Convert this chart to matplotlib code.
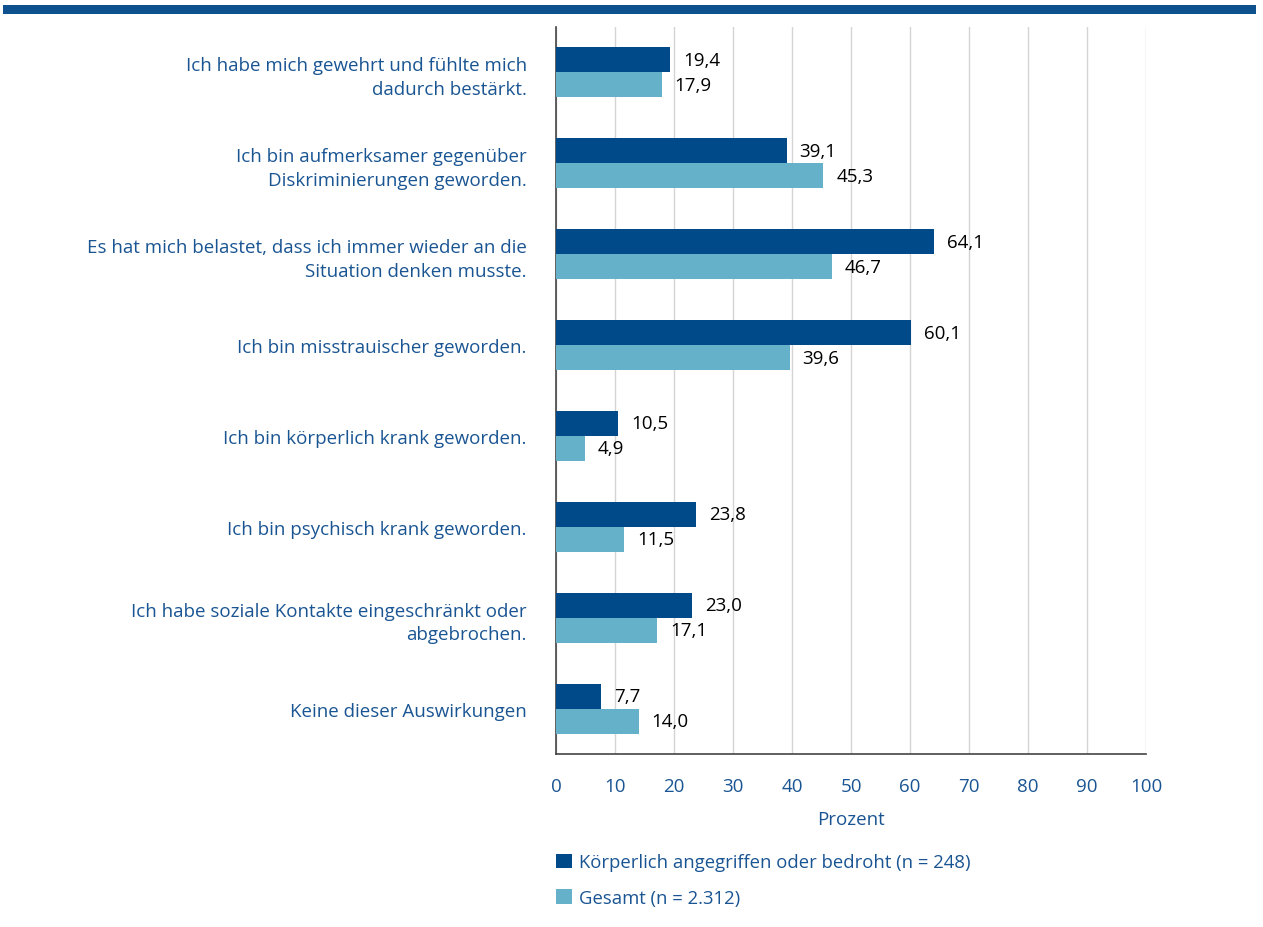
import matplotlib
matplotlib.use("Agg")
import matplotlib.pyplot as plt
import numpy as np

categories = [
    "Ich habe mich gewehrt und fühlte mich\ndadurch bestärkt.",
    "Ich bin aufmerksamer gegenüber\nDiskriminierungen geworden.",
    "Es hat mich belastet, dass ich immer wieder an die\nSituation denken musste.",
    "Ich bin misstrauischer geworden.",
    "Ich bin körperlich krank geworden.",
    "Ich bin psychisch krank geworden.",
    "Ich habe soziale Kontakte eingeschränkt oder\nabgebrochen.",
    "Keine dieser Auswirkungen",
]
angegriffen = [19.4, 39.1, 64.1, 60.1, 10.5, 23.8, 23.0, 7.7]
gesamt = [17.9, 45.3, 46.7, 39.6, 4.9, 11.5, 17.1, 14.0]
series_names = ["Körperlich angegriffen oder bedroht (n = 248)", "Gesamt (n = 2.312)"]
xticks = list(range(0, 101, 10))

DARK = "#004a8a"
LIGHT = "#64b1c9"
TEXT = "#1a5593"
FONT = "Open Sans"

plt.rcParams["font.family"] = [FONT, "DejaVu Sans"]

fig = plt.figure(figsize=(12.63, 9.28), dpi=100)
W, H = 1263, 928
ax = fig.add_axes([556 / W, 1 - 755 / H, 590 / W, 727 / H])

# top banner line
fig.add_artist(plt.Rectangle((3 / W, 1 - 15 / H), 1253 / W, 9 / H,
                             transform=fig.transFigure, color="#0e518f", lw=0))

y = np.arange(len(categories))
h = 0.275
ax.barh(y - h / 2, angegriffen, height=h, color=DARK, label=series_names[0], zorder=3)
ax.barh(y + h / 2, gesamt, height=h, color=LIGHT, label=series_names[1], zorder=3)

for i in range(len(categories)):
    ax.text(angegriffen[i] + 2.2, y[i] - h / 2, f"{angegriffen[i]:.1f}".replace(".", ","),
            va="center", ha="left", fontsize=13.5, color="black")
    ax.text(gesamt[i] + 2.2, y[i] + h / 2, f"{gesamt[i]:.1f}".replace(".", ","),
            va="center", ha="left", fontsize=13.5, color="black")

ax.set_ylim(len(categories) - 0.5, -0.5)
ax.set_xlim(0, 100)
ax.set_yticks(y)
ax.set_yticklabels(categories, fontsize=13.5, color=TEXT, ha="right", linespacing=1.38)
ax.set_xticks(xticks)
ax.set_xticklabels([str(t) for t in xticks], fontsize=13.5, color=TEXT)
ax.tick_params(axis="y", length=0, pad=21)
ax.tick_params(axis="x", length=0, pad=16.5)
ax.set_xlabel("Prozent", fontsize=13.5, color=TEXT, labelpad=11)

ax.grid(axis="x", color="#d4d4d4", lw=1, zorder=0)
for s in ["top", "right"]:
    ax.spines[s].set_visible(False)
ax.spines["left"].set_color("#444444")
ax.spines["bottom"].set_color("#444444")
ax.spines["left"].set_linewidth(1.2)
ax.spines["bottom"].set_linewidth(1.2)

leg = fig.legend(loc="upper left", bbox_to_anchor=(549 / W, 1 - 847 / H),
                 frameon=False, fontsize=13.3, handlelength=0.85, handleheight=0.85,
                 handletextpad=0.4, labelspacing=0.95, borderaxespad=0)
for t in leg.get_texts():
    t.set_color(TEXT)

fig.savefig("out.png", dpi=100)
